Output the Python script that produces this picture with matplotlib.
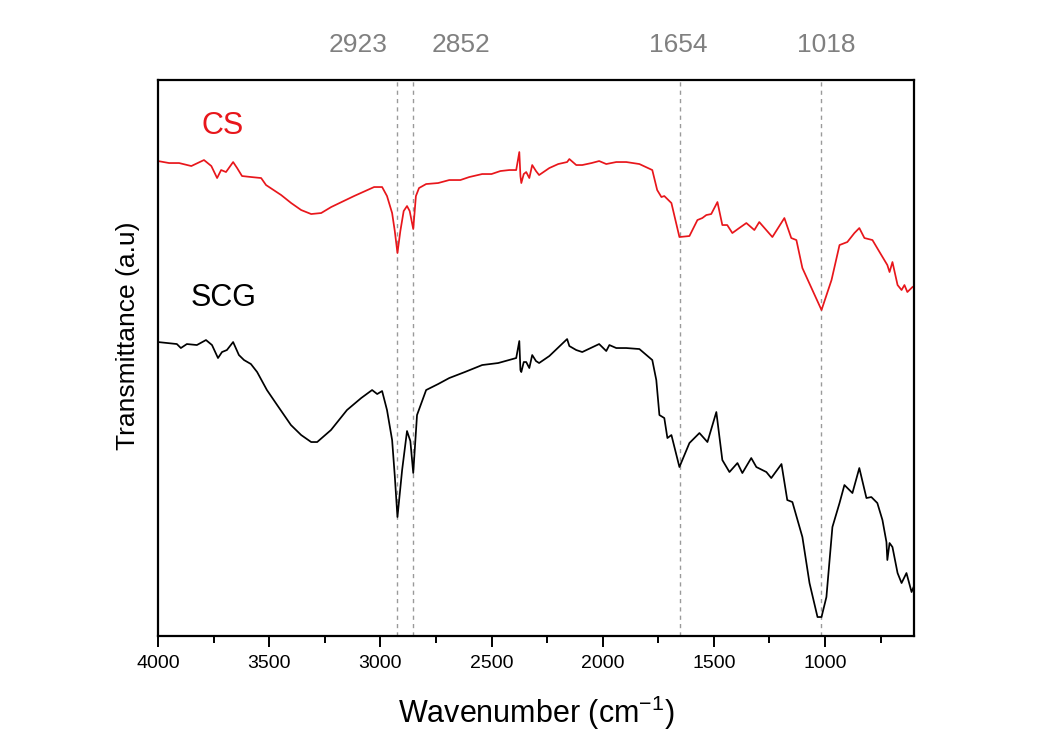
import matplotlib
matplotlib.use("Agg")
import matplotlib.pyplot as plt
from matplotlib.ticker import MultipleLocator

plt.rcParams["mathtext.default"] = "regular"

# FTIR spectra (wavenumber in cm-1, transmittance in a.u.)
cs_wn = [4000, 3950, 3905, 3850, 3793, 3760, 3734, 3716, 3694, 3662, 3644, 3622,
         3581, 3536, 3514, 3446, 3401, 3356, 3311, 3266, 3221, 3118, 3028, 2992,
         2970, 2947, 2935, 2923, 2910, 2895, 2880, 2868, 2852, 2840, 2826, 2794,
         2740, 2690, 2640, 2600, 2542, 2500, 2460, 2420, 2389, 2375, 2370, 2366,
         2355, 2344, 2330, 2317, 2300, 2286, 2240, 2200, 2160, 2150, 2119, 2092,
         2050, 2016, 1984, 1939, 1894, 1835, 1777, 1755, 1736, 1723, 1691, 1655,
         1610, 1574, 1552, 1534, 1512, 1484, 1462, 1440, 1417, 1386, 1354, 1318,
         1296, 1237, 1183, 1152, 1129, 1102, 1057, 1016, 971, 935, 900, 868, 846,
         823, 787, 755, 720, 710, 697, 674, 656, 643, 630, 607]
cs_t = [475, 473, 473, 470, 476, 470, 458, 466, 464, 474, 468, 460,
        459, 458, 451, 441, 433, 426, 422, 423, 429, 440, 449, 449,
        440, 423, 405, 383, 405, 425, 430, 425, 407, 440, 448, 452,
        453, 456, 456, 459, 462, 462, 465, 466, 466, 484, 460, 453,
        462, 464, 458, 471, 465, 461, 468, 472, 474, 477, 471, 471,
        473, 475, 472, 474, 474, 472, 466, 446, 439, 440, 433, 399,
        400, 416, 418, 421, 422, 434, 411, 411, 403, 408, 413, 406,
        414, 399, 418, 398, 396, 368, 346, 326, 356, 391, 394, 403, 408,
        398, 396, 384, 371, 364, 374, 351, 346, 351, 344, 349]

scg_wn = [4000, 3915, 3897, 3870, 3825, 3784, 3757, 3730, 3712, 3690, 3662, 3636,
          3613, 3582, 3554, 3510, 3464, 3402, 3356, 3311, 3284, 3222, 3150, 3086,
          3037, 3014, 2992, 2970, 2947, 2935, 2923, 2902, 2880, 2865, 2852, 2835,
          2794, 2740, 2690, 2620, 2542, 2470, 2389, 2375, 2370, 2366, 2355, 2344,
          2330, 2317, 2300, 2286, 2240, 2160, 2150, 2119, 2092, 2016, 1984, 1970,
          1939, 1894, 1835, 1777, 1759, 1745, 1723, 1709, 1691, 1655, 1610, 1565,
          1529, 1489, 1462, 1430, 1394, 1372, 1332, 1309, 1264, 1242, 1196, 1170,
          1147, 1102, 1070, 1034, 1016, 994, 967, 935, 913, 877, 846, 814, 792,
          765, 742, 724, 720, 710, 697, 674, 656, 634, 611, 602]
scg_t = [294, 292, 288, 292, 291, 296, 291, 278, 284, 286, 294, 281,
         276, 272, 264, 246, 231, 211, 201, 194, 194, 206, 226, 238,
         246, 242, 245, 226, 196, 160, 119, 166, 205, 195, 163, 221,
         246, 252, 258, 264, 271, 273, 278, 295, 266, 264, 274, 274,
         268, 281, 275, 273, 280, 297, 290, 286, 284, 292, 285, 291,
         288, 288, 287, 276, 256, 221, 218, 198, 201, 169, 193, 203,
         194, 224, 176, 164, 173, 163, 178, 169, 164, 158, 172, 136,
         134, 99, 53, 19, 19, 39, 109, 133, 151, 143, 168, 138, 139,
         133, 116, 94, 76, 93, 89, 63, 53, 63, 44, 49]

peaks = [2923, 2852, 1654, 1018]
peak_label_x = [3100, 2636, 1660, 994]

font = ["Liberation Sans", "DejaVu Sans"]

fig = plt.figure(figsize=(10.44, 7.37), dpi=100)
ax = fig.add_axes([0.1513, 0.137, 0.7242, 0.7544])

ax.plot(cs_wn, cs_t, color="#e8161b", lw=1.25)
ax.plot(scg_wn, scg_t, color="black", lw=1.25)

for p, lx in zip(peaks, peak_label_x):
    ax.axvline(p, color="#9a9a9a", lw=1.0, ls=(0, (3, 3)), zorder=0)
    ax.text(lx, 1.063, str(p), transform=ax.get_xaxis_transform(),
            ha="center", va="center", fontsize=19, color="#808080", family=font)

ax.text(3707, 510, "CS", color="#e8161b", fontsize=22, ha="center", va="center", family=font)
ax.text(3703, 338, "SCG", color="black", fontsize=22, ha="center", va="center", family=font)

ax.set_xlim(4000, 600)
ax.set_ylim(0, 556)
ax.xaxis.set_major_locator(MultipleLocator(500))
ax.xaxis.set_minor_locator(MultipleLocator(250))
ax.set_yticks([])
ax.tick_params(axis="x", which="major", direction="out", length=8, width=1.4, pad=6)
ax.tick_params(axis="x", which="minor", direction="out", length=5, width=1.4)
for lbl in ax.get_xticklabels():
    lbl.set_family(font)
    lbl.set_fontsize(14)
for s in ax.spines.values():
    s.set_linewidth(1.6)

ax.set_xlabel("Wavenumber (cm$^{-1}$)", fontsize=22, family=font)
ax.set_ylabel("Transmittance (a.u)", fontsize=19, family=font)
ax.xaxis.set_label_coords(0.5, -0.104)
ax.yaxis.set_label_coords(-0.024, 0.54)

fig.savefig("out.png", dpi=100)
